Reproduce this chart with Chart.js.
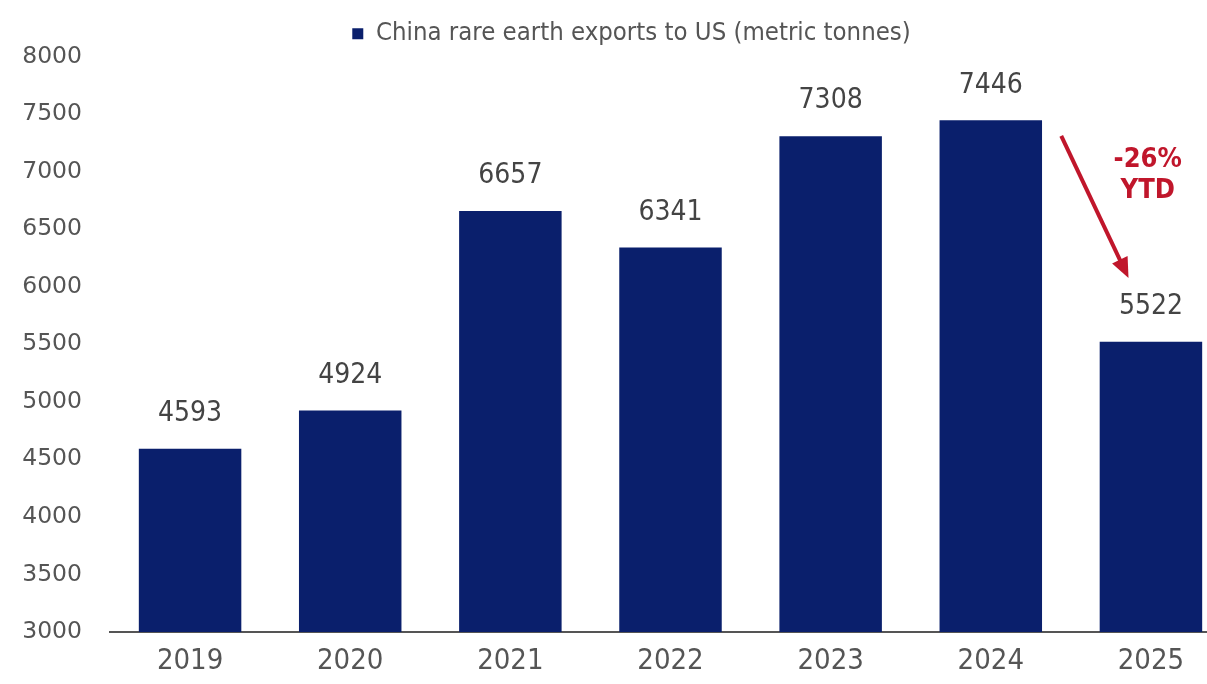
<!DOCTYPE html>
<html>
<head>
<meta charset="utf-8">
<script src="https://cdn.jsdelivr.net/npm/chart.js@4.4.1/dist/chart.umd.min.js"></script>
<style>
    html, body {
        margin: 0;
        padding: 0;
        background: #ffffff;
        overflow: hidden;
    }
    #wrap {
        position: relative;
        width: 1231px;
        height: 684px;
    }
</style>
</head>
<body>
<div id="wrap"><canvas id="myChart"></canvas></div>
<script>
var years = ['2019', '2020', '2021', '2022', '2023', '2024', '2025'];
var exportsTonnes = [4593, 4924, 6657, 6341, 7308, 7446, 5522];
var seriesLabel = 'China rare earth exports to US (metric tonnes)';
var yMin = 3000;
var yMax = 8000;
var yStep = 500;
var noteLines = ['-26%', 'YTD'];
// arrow from 2024 to 2025, in data units (category index, tonnes)
var arrowFrom = [5.44, 7310];
var arrowTo = [5.86, 6075];
var noteAt = [5.98, 7105];

(function (window) {

    var narrow = "'Liberation Sans Narrow', 'DejaVu Sans Condensed', sans-serif";

    // nudge the legend a little to the right, like the source
    var legendShift = {
        id: 'legendShift',
        afterLayout: function (chart) {
            if (chart.legend) {
                chart.legend.left += 16;
                chart.legend.right += 16;
            }
        }
    };

    var valueLabels = {
        id: 'valueLabels',
        afterDatasetsDraw: function (chart) {
            var ctx = chart.ctx;
            var meta = chart.getDatasetMeta(0);
            ctx.save();
            ctx.fillStyle = '#444444';
            ctx.font = '28px ' + narrow;
            ctx.textAlign = 'center';
            ctx.textBaseline = 'middle';
            meta.data.forEach(function (bar, i) {
                ctx.fillText(String(exportsTonnes[i]), bar.x, bar.y - 35);
            });
            ctx.restore();
        }
    };

    var ytdNote = {
        id: 'ytdNote',
        afterDraw: function (chart) {
            var ctx = chart.ctx;
            var xs = chart.scales.x;
            var ys = chart.scales.y;
            var x1 = xs.getPixelForValue(arrowFrom[0]);
            var y1 = ys.getPixelForValue(arrowFrom[1]);
            var x2 = xs.getPixelForValue(arrowTo[0]);
            var y2 = ys.getPixelForValue(arrowTo[1]);
            var ang = Math.atan2(y2 - y1, x2 - x1);
            var head = 22;

            ctx.save();
            ctx.strokeStyle = '#c0162b';
            ctx.fillStyle = '#c0162b';
            ctx.lineWidth = 4;
            ctx.beginPath();
            ctx.moveTo(x1, y1);
            ctx.lineTo(x2 - Math.cos(ang) * head * 0.8, y2 - Math.sin(ang) * head * 0.8);
            ctx.stroke();
            ctx.beginPath();
            ctx.moveTo(x2, y2);
            ctx.lineTo(x2 - head * Math.cos(ang - 0.4), y2 - head * Math.sin(ang - 0.4));
            ctx.lineTo(x2 - head * Math.cos(ang + 0.4), y2 - head * Math.sin(ang + 0.4));
            ctx.closePath();
            ctx.fill();

            ctx.font = 'bold 27px ' + narrow;
            ctx.textAlign = 'center';
            ctx.textBaseline = 'middle';
            var tx = xs.getPixelForValue(noteAt[0]);
            var ty = ys.getPixelForValue(noteAt[1]);
            ctx.fillText(noteLines[0], tx, ty);
            ctx.fillText(noteLines[1], tx, ty + 31);
            ctx.restore();
        }
    };

    function initializeChart() {
        var ctx = document.getElementById('myChart');
        if (!ctx) {
            return;
        }

        new Chart(ctx.getContext('2d'), {
            type: 'bar',
            data: {
                labels: years,
                datasets: [
                    {
                        label: seriesLabel,
                        data: exportsTonnes,
                        backgroundColor: '#0a1f6c',
                        barPercentage: 0.8,
                        categoryPercentage: 0.8
                    }
                ]
            },
            options: {
                responsive: true,
                maintainAspectRatio: false,
                animation: false,
                layout: {
                    padding: { left: 0, right: 0, top: 13, bottom: 0 }
                },
                plugins: {
                    tooltip: { enabled: false },
                    legend: {
                        display: true,
                        position: 'top',
                        labels: {
                            boxWidth: 11,
                            boxHeight: 11,
                            color: '#555555',
                            padding: 8,
                            font: { size: 25.5, family: narrow }
                        }
                    }
                },
                scales: {
                    x: {
                        grid: { display: false, drawTicks: false },
                        border: { display: true, color: '#555555', width: 2 },
                        ticks: {
                            color: '#555555',
                            padding: 12,
                            font: { size: 29, family: narrow }
                        },
                        afterFit: function (scale) {
                            scale.height = 52;
                        }
                    },
                    y: {
                        min: yMin,
                        max: yMax,
                        grid: { display: false, drawTicks: false },
                        border: { display: false },
                        ticks: {
                            stepSize: yStep,
                            color: '#555555',
                            padding: 28,
                            font: { size: 23.5, family: "'DejaVu Sans', sans-serif" },
                            callback: function (value) {
                                return String(value);
                            }
                        },
                        afterFit: function (scale) {
                            scale.width = 110;
                        }
                    }
                }
            },
            plugins: [legendShift, valueLabels, ytdNote]
        });
    }

    document.addEventListener('DOMContentLoaded', initializeChart);

})(window);
</script>
</body>
</html>
